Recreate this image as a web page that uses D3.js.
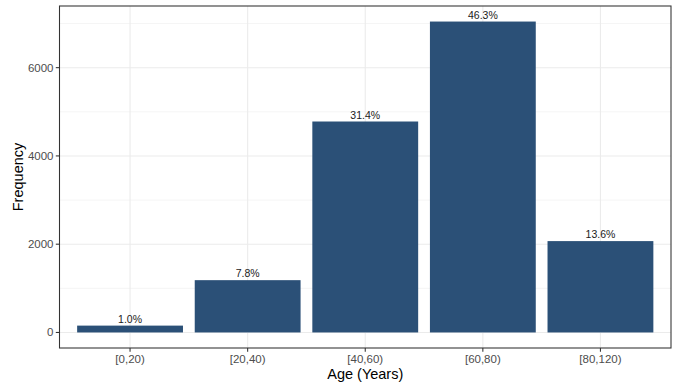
<!DOCTYPE html>
<html><head><meta charset="utf-8">
<script src="https://cdn.jsdelivr.net/npm/d3@7"></script>
<style>body{margin:0;background:#fff;} text{font-family:"Liberation Sans",Arial,Helvetica,sans-serif;}</style>
</head><body>
<svg id="c" width="673" height="384"></svg>
<script>
const categories = ["[0,20)","[20,40)","[40,60)","[60,80)","[80,120)"];
const frequencies = [155, 1185, 4780, 7045, 2070];
const percentLabels = ["1.0%","7.8%","31.4%","46.3%","13.6%"];
const yTicks = [0, 2000, 4000, 6000];
const yMinor = [1000, 3000, 5000, 7000];

const svg = d3.select("#c");
const L = 59.5, R = 671, T = 6, B = 348;
const maxV = d3.max(frequencies);
const pad = maxV * 0.05;
const y = d3.scaleLinear().domain([-pad, maxV + pad]).range([B, T]);
const x = d3.scaleBand().domain(categories).range([L, R]).paddingInner(0.1).paddingOuter(0.55);
// ggplot discrete expansion: 0.6 units each side; band step spans 1 unit with bar width 0.9
const step = (R - L) / (categories.length + 0.2);
const cx = (d, i) => L + step * (0.6 + i);
const bw = step * 0.9;

svg.append("rect").attr("x", L).attr("y", T).attr("width", R - L).attr("height", B - T).attr("fill", "#fff");
const g = svg.append("g");
yMinor.forEach(v => g.append("line").attr("x1", L).attr("x2", R).attr("y1", y(v)).attr("y2", y(v)).attr("stroke", "#ebebeb").attr("stroke-width", 0.55));
yTicks.forEach(v => g.append("line").attr("x1", L).attr("x2", R).attr("y1", y(v)).attr("y2", y(v)).attr("stroke", "#ebebeb").attr("stroke-width", 1.07));
categories.forEach((c, i) => g.append("line").attr("x1", cx(c, i)).attr("x2", cx(c, i)).attr("y1", T).attr("y2", B).attr("stroke", "#ebebeb").attr("stroke-width", 1.07));

svg.append("g").selectAll("rect").data(frequencies).join("rect")
  .attr("x", (d, i) => cx(categories[i], i) - bw / 2)
  .attr("width", bw)
  .attr("y", d => y(d))
  .attr("height", d => y(0) - y(d))
  .attr("fill", "#2b5077");

svg.append("g").selectAll("text").data(frequencies).join("text")
  .attr("x", (d, i) => cx(categories[i], i))
  .attr("y", d => y(d) - 3)
  .attr("text-anchor", "middle")
  .attr("font-size", "10.5px").attr("fill", "#1a1a1a")
  .text((d, i) => percentLabels[i]);

svg.append("rect").attr("x", L).attr("y", T).attr("width", R - L).attr("height", B - T)
  .attr("fill", "none").attr("stroke", "#333").attr("stroke-width", 1.07);

// y axis
const ya = svg.append("g");
yTicks.forEach(v => {
  ya.append("line").attr("x1", L - 3.7).attr("x2", L).attr("y1", y(v)).attr("y2", y(v)).attr("stroke", "#333").attr("stroke-width", 1.07);
  ya.append("text").attr("x", L - 6).attr("y", y(v)).attr("dy", "0.35em").attr("text-anchor", "end")
    .attr("font-size", "11.5px").attr("fill", "#4d4d4d").text(v);
});
// x axis
const xa = svg.append("g");
categories.forEach((c, i) => {
  xa.append("line").attr("x1", cx(c, i)).attr("x2", cx(c, i)).attr("y1", B).attr("y2", B + 3.7).attr("stroke", "#333").attr("stroke-width", 1.07);
  xa.append("text").attr("x", cx(c, i)).attr("y", B + 14.5).attr("text-anchor", "middle")
    .attr("font-size", "11.5px").attr("fill", "#4d4d4d").text(c);
});
svg.append("text").attr("x", (L + R) / 2).attr("y", 379).attr("text-anchor", "middle")
  .attr("font-size", "14.5px").attr("fill", "#000").text("Age (Years)");
svg.append("text").attr("transform", `translate(23,${(T + B) / 2}) rotate(-90)`).attr("text-anchor", "middle")
  .attr("font-size", "14.5px").attr("fill", "#000").text("Frequency");
</script>
</body></html>
